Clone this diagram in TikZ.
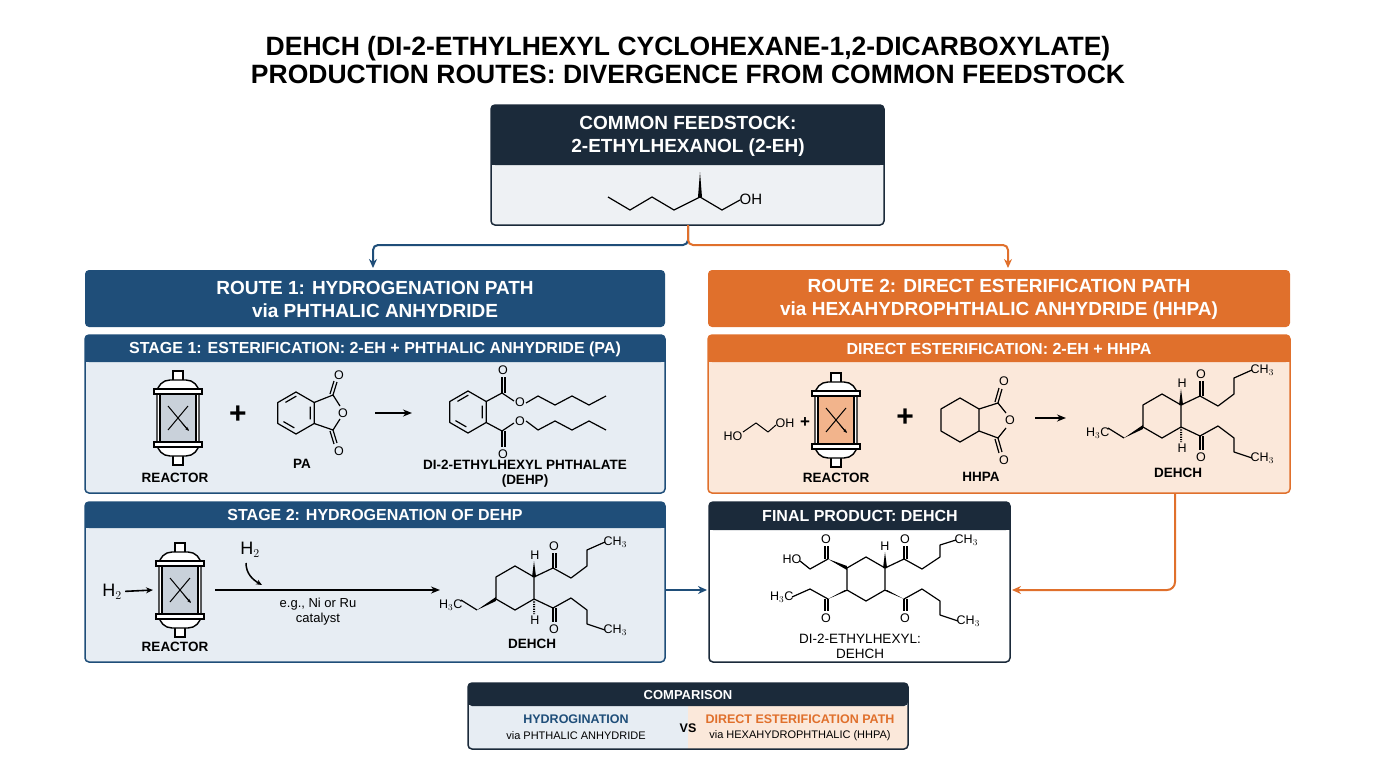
\documentclass[tikz,border=0pt]{standalone}
\usepackage{fontspec}
\setmainfont{Liberation Sans}
\usetikzlibrary{arrows.meta,calc}
\definecolor{routeblue}{HTML}{1F4E79}
\definecolor{routeorange}{HTML}{E0702C}
\definecolor{darkhead}{HTML}{1B2A3A}
\definecolor{lightblue}{HTML}{E7EDF3}
\definecolor{lightorange}{HTML}{FBE8DA}
\definecolor{lightgrey}{HTML}{EEF1F4}
\definecolor{vesselgrey}{HTML}{C9D1DA}
\definecolor{vesselorange}{HTML}{F2B48C}

% ring of six coordinates: name, x, y, radius
\newcommand\sixring[4]{%
  \foreach \k in {1,...,6}{\coordinate (#1\k) at ($(#2,#3)+({\k*60-30}:#4)$);}
  \draw[bond] (#11)--(#12)--(#13)--(#14)--(#15)--(#16)--cycle;}
% reactor vessel: x, y, fill
\newcommand\reactor[3]{%
  \begin{scope}[shift={(#1,#2)},line width=1.4pt]
    \draw[fill=white] (-5,-47) rectangle (5,-36);
    \draw[fill=white] (-5,36) rectangle (5,47);
    \draw[fill=white,rounded corners=13] (-21,-38) rectangle (21,38);
    \draw[fill=#3] (-18,-24) rectangle (18,24);
    \draw[fill=white] (-24,-29) rectangle (24,-24);
    \draw[fill=white] (-24,24) rectangle (24,29);
    \draw[line width=1pt] (-10,-12) -- (10,12) (10,-12) -- (-10,12);
    \draw[-{Stealth[length=4pt]},line width=0.8pt] (4,5) -- (11,13);
  \end{scope}}
% cyclohexane ester (DEHCH) drawn at x, y
\newcommand\dehch[2]{%
  \begin{scope}[shift={(#1,#2)}]
    \sixring{dc}{0}{0}{22}
    % upper group
    \draw[bond] (dc6) -- (38,-20) coordinate (cu);
    \fill ($(dc6)+(-2,0)$) -- (19,-27) -- ($(dc6)+(2,0)$) -- cycle;
    \node[atom] at (20,-33) {H};
    \draw[bond] (cu) -- (56,-10) -- (72,-22) -- (72,-38) -- (90,-46);
    \draw[bond] (cu) -- (38,-35) ($(cu)+(3,0)$) -- (41,-35);
    \node[atom] at (39,-42) {O};
    \node[atom,anchor=west] at (88,-46) {CH$_3$};
    % lower group
    \draw[bond] (dc1) -- (38,20) coordinate (cl);
    \draw[bond,dash pattern=on 1.2pt off 1.2pt,line width=2pt] (dc1) -- (19,26);
    \node[atom] at (20,32) {H};
    \draw[bond] (cl) -- (38,34) ($(cl)+(3,0)$) -- (41,34);
    \node[atom] at (39,41) {O};
    \draw[bond] (cl) -- (56,10) -- (72,22) -- (72,36) -- (90,42);
    \node[atom,anchor=west] at (88,42) {CH$_3$};
    % left group
    \fill ($(dc3)+(0,-2)$) -- (-38,22) -- ($(dc3)+(0,2)$) -- cycle;
    \draw[bond] (-38,22) -- (-54,12);
    \node[atom,anchor=east] at (-52,17) {H$_3$C};
  \end{scope}}

\begin{document}
\begin{tikzpicture}[x=1pt,y=-1pt,
    bond/.style={line width=1.2pt,line join=round},
    atom/.style={font=\fontsize{12.5}{13}\selectfont,inner sep=0.5pt,fill=none},
    label/.style={font=\bfseries\fontsize{13.5}{15}\selectfont,align=center},
    headtext/.style={font=\bfseries\fontsize{19}{23}\selectfont,text=white,align=center},
    stagetext/.style={headtext,font=\bfseries\fontsize{16}{18}\selectfont},
    panel/.style={line width=1.5pt,rounded corners=4pt},
    flow/.style={line width=2pt,-{Stealth[length=9pt,width=8pt]}},
    plain/.style={line width=2pt,-{Stealth[length=9pt,width=7pt]}}]
  \useasboundingbox (0,0) rectangle (1376,768);

  % title
  \node[font=\bfseries\fontsize{26.5}{28}\selectfont,align=center] (title) at (688,60)
    {DEHCH (DI-2-ETHYLHEXYL CYCLOHEXANE-1,2-DICARBOXYLATE)\\PRODUCTION ROUTES: DIVERGENCE FROM COMMON FEEDSTOCK};

  % common feedstock
  \fill[lightgrey,rounded corners=4pt] (491,105) rectangle (884,225);
  \fill[darkhead,rounded corners=4pt] (491,105) rectangle (884,165);
  \fill[darkhead] (491,150) rectangle (884,165);
  \draw[darkhead,panel] (491,105) rectangle (884,225);
  \node[headtext] (feed) at (688,136) {COMMON FEEDSTOCK:\\2-ETHYLHEXANOL (2-EH)};
  \draw[bond] (608,197) -- (630,210) -- (652,197) -- (674,210) -- (700,197) -- (722,210) -- (740,200);
  \fill (698,197) -- (700,172) -- (702,197) -- cycle;
  \node[atom,font=\fontsize{15}{16}\selectfont,anchor=west] (oh) at (739,199) {OH};

  % route 1
  \fill[routeblue,rounded corners=4pt] (85,270) rectangle (665,327);
  \node[headtext] (r1) at (375,299) {ROUTE 1: HYDROGENATION PATH\\via PHTHALIC ANHYDRIDE};
  \fill[lightblue,rounded corners=4pt] (85,335) rectangle (665,493);
  \fill[routeblue,rounded corners=4pt] (85,335) rectangle (665,362);
  \fill[routeblue] (85,352) rectangle (665,362);
  \draw[routeblue,panel] (85,335) rectangle (665,493);
  \node[stagetext] (s1) at (375,349) {STAGE 1: ESTERIFICATION: 2-EH + PHTHALIC ANHYDRIDE (PA)};
  \fill[lightblue,rounded corners=4pt] (85,502) rectangle (665,662);
  \fill[routeblue,rounded corners=4pt] (85,502) rectangle (665,528);
  \fill[routeblue] (85,518) rectangle (665,528);
  \draw[routeblue,panel] (85,502) rectangle (665,662);
  \node[stagetext] (s2) at (375,515) {STAGE 2: HYDROGENATION OF DEHP};

  % stage 1 content
  \reactor{178}{418}{vesselgrey}
  \node[label] (rc1) at (175,478) {REACTOR};
  \node[font=\bfseries\fontsize{30}{30}\selectfont] (plus1) at (238,415) {+};
  \sixring{pa}{296}{413}{21}
  \draw[bond] ($(pa4)!0.2!(pa5)+(4,2)$) -- ($(pa4)!0.8!(pa5)+(4,2)$)
              ($(pa6)!0.2!(pa1)+(-4,0)$) -- ($(pa6)!0.8!(pa1)+(-4,0)$)
              ($(pa2)!0.2!(pa3)+(2,-4)$) -- ($(pa2)!0.8!(pa3)+(2,-4)$);
  \draw[bond] (pa6) -- (333,395) -- (340,406) (340,419) -- (333,430) -- (pa1);
  \node[atom] at (343,413) {O};
  \draw[bond] (333,395) -- (337,382) (330,394) -- (334,381);
  \node[atom] at (339,375) {O};
  \draw[bond] (333,430) -- (337,443) (330,431) -- (334,444);
  \node[atom] at (339,451) {O};
  \node[label] (pa) at (302,464) {PA};
  \draw[plain] (375,413) -- (412,413);
  \sixring{dp}{468}{412}{21}
  \draw[bond] ($(dp4)!0.2!(dp5)+(4,2)$) -- ($(dp4)!0.8!(dp5)+(4,2)$)
              ($(dp6)!0.2!(dp1)+(-4,0)$) -- ($(dp6)!0.8!(dp1)+(-4,0)$)
              ($(dp2)!0.2!(dp3)+(2,-4)$) -- ($(dp2)!0.8!(dp3)+(2,-4)$);
  \draw[bond] (dp6) -- (502,393) -- (514,401) (526,403) -- (538,396) -- (555,405) -- (572,396) -- (589,405) -- (606,396);
  \draw[bond] (502,393) -- (502,377) (505,393) -- (505,377);
  \node[atom] at (503,370) {O};
  \node[atom] at (520,402) {O};
  \draw[bond] (dp1) -- (502,431) -- (514,423) (526,421) -- (538,430) -- (555,421) -- (572,430) -- (589,421) -- (606,430);
  \draw[bond] (502,431) -- (502,447) (505,431) -- (505,447);
  \node[atom] at (503,454) {O};
  \node[atom] at (520,421) {O};
  \node[label] (dehp) at (525,474) {DI-2-ETHYLHEXYL PHTHALATE\\(DEHP)};

  % stage 2 content
  \reactor{180}{590}{vesselgrey}
  \node[label] (rc2) at (175,647) {REACTOR};
  \node[font=\fontsize{18}{18}\selectfont] (h2a) at (112,592) {H$_2$};
  \draw[plain,line width=1.6pt,-{Stealth[length=7pt,width=6pt]}] (h2a) -- (153,590);
  \draw[plain] (215,590) -- (440,590);
  \node[font=\fontsize{18}{18}\selectfont] (h2b) at (250,550) {H$_2$};
  \draw[line width=1.5pt,-{Stealth[length=6pt,width=5pt]}] (246,563) to[out=-90,in=150] (262,585);
  \node[font=\fontsize{13}{15}\selectfont,align=center] (cat) at (318,612) {e.g., Ni or Ru\\catalyst};
  \dehch{515}{588}
  \node[label] (dehch1) at (532,644) {DEHCH};

  % route 2
  \fill[routeorange,rounded corners=4pt] (708,270) rectangle (1290,327);
  \node[headtext] (r2) at (999,299) {ROUTE 2: DIRECT ESTERIFICATION PATH\\via HEXAHYDROPHTHALIC ANHYDRIDE (HHPA)};
  \fill[lightorange,rounded corners=4pt] (708,335) rectangle (1290,493);
  \fill[routeorange,rounded corners=4pt] (708,335) rectangle (1290,362);
  \fill[routeorange] (708,352) rectangle (1290,362);
  \draw[routeorange,panel] (708,335) rectangle (1290,493);
  \node[stagetext] (de) at (999,349) {DIRECT ESTERIFICATION: 2-EH + HHPA};
  \node[atom] at (733,436) {HO};
  \draw[bond,line width=1pt] (743,432) -- (756,423) -- (768,432) -- (776,425);
  \node[atom,anchor=west] at (775,423) {OH};
  \node[font=\bfseries\fontsize{17}{17}\selectfont] at (805,423) {+};
  \reactor{836}{420}{vesselorange}
  \node[label] (rc3) at (836,478) {REACTOR};
  \node[font=\bfseries\fontsize{30}{30}\selectfont] (plus2) at (905,418) {+};
  \sixring{hh}{960}{420}{22}
  \draw[bond] (hh6) -- (998,403) -- (1006,413) (1006,428) -- (998,438) -- (hh1);
  \node[atom] at (1010,420) {O};
  \draw[bond] (998,403) -- (1002,389) (995,402) -- (999,388);
  \node[atom] at (1004,381) {O};
  \draw[bond] (998,438) -- (1002,452) (995,439) -- (999,453);
  \node[atom] at (1004,460) {O};
  \node[label] (hhpa) at (981,477) {HHPA};
  \draw[plain] (1035,418) -- (1066,418);
  \dehch{1162}{416}
  \node[label] (dehch2) at (1178,473) {DEHCH};

  % final product
  \fill[white,rounded corners=4pt] (709,502) rectangle (1010,662);
  \fill[darkhead,rounded corners=4pt] (709,502) rectangle (1010,530);
  \fill[darkhead] (709,518) rectangle (1010,530);
  \draw[darkhead,panel] (709,502) rectangle (1010,662);
  \node[headtext,font=\bfseries\fontsize{16}{18}\selectfont] (fp) at (860,516) {FINAL PRODUCT: DEHCH};
  \begin{scope}[shift={(866,579)}]
    \sixring{fr}{0}{0}{22}
    \fill ($(fr6)+(-2,0)$) -- (19,-27) -- ($(fr6)+(2,0)$) -- cycle;
    \node[atom] at (19,-33) {H};
    \draw[bond] (fr6) -- (38,-20) -- (56,-10) -- (74,-22) -- (74,-34) -- (90,-39);
    \draw[bond] (38,-20) -- (38,-33) (41,-20) -- (41,-33);
    \node[atom] at (39,-40) {O};
    \node[atom,anchor=west] at (88,-39) {CH$_3$};
    \fill ($(fr4)+(0,-2)$) -- (-38,-20) -- ($(fr4)+(0,2)$) -- cycle;
    \draw[bond] (-38,-20) -- (-38,-33) (-41,-20) -- (-41,-33);
    \node[atom] at (-40,-40) {O};
    \draw[bond] (-38,-20) -- (-56,-10) -- (-66,-18);
    \node[atom,anchor=east] at (-64,-20) {HO};
    \fill ($(fr1)+(-2,0)$) -- (38,20) -- ($(fr1)+(2,0)$) -- cycle;
    \draw[bond] (38,20) -- (38,32) (41,20) -- (41,32);
    \node[atom] at (39,39) {O};
    \draw[bond] (38,20) -- (56,10) -- (74,22) -- (74,36) -- (92,42);
    \node[atom,anchor=west] at (90,42) {CH$_3$};
    \fill ($(fr3)+(-2,0)$) -- (-38,20) -- ($(fr3)+(2,0)$) -- cycle;
    \draw[bond] (-38,20) -- (-38,32) (-41,20) -- (-41,32);
    \node[atom] at (-40,39) {O};
    \draw[bond] (-38,20) -- (-56,10) -- (-74,18);
    \node[atom,anchor=east] at (-72,18) {H$_3$C};
  \end{scope}
  \node[font=\fontsize{13.5}{15}\selectfont,align=center] (fpname) at (860,646) {DI-2-ETHYLHEXYL:\\DEHCH};

  % connectors
  \coordinate (split) at (688,245);
  \draw[routeblue,flow,rounded corners=5pt] (688,225) -- (split) -| (373,268);
  \draw[routeorange,flow,rounded corners=5pt] (688,225) -- (split) -| (1008,268);
  \draw[routeblue,flow] (665,590) -- (707,590);
  \draw[routeorange,flow,rounded corners=8pt] (1175,493) |- (1012,590);

  % comparison
  \fill[lightblue] (468,706) rectangle (688,749);
  \fill[lightorange] (688,706) rectangle (908,749);
  \fill[darkhead,rounded corners=4pt] (468,683) rectangle (908,706);
  \draw[darkhead,panel] (468,683) rectangle (908,749);
  \node[headtext,font=\bfseries\fontsize{13}{14}\selectfont] (cmp) at (688,695) {COMPARISON};
  \node[font=\bfseries\fontsize{12.5}{13}\selectfont,text=routeblue] (c1) at (576,719) {HYDROGINATION};
  \node[font=\fontsize{11}{12}\selectfont] (c1b) at (576,736) {via PHTHALIC ANHYDRIDE};
  \node[font=\bfseries\fontsize{12.5}{13}\selectfont] (vs) at (688,728) {VS};
  \node[font=\bfseries\fontsize{12.5}{13}\selectfont,text=routeorange] (c2) at (800,719) {DIRECT ESTERIFICATION PATH};
  \node[font=\fontsize{11}{12}\selectfont] (c2b) at (800,736) {via HEXAHYDROPHTHALIC (HHPA)};
\end{tikzpicture}
\end{document}
